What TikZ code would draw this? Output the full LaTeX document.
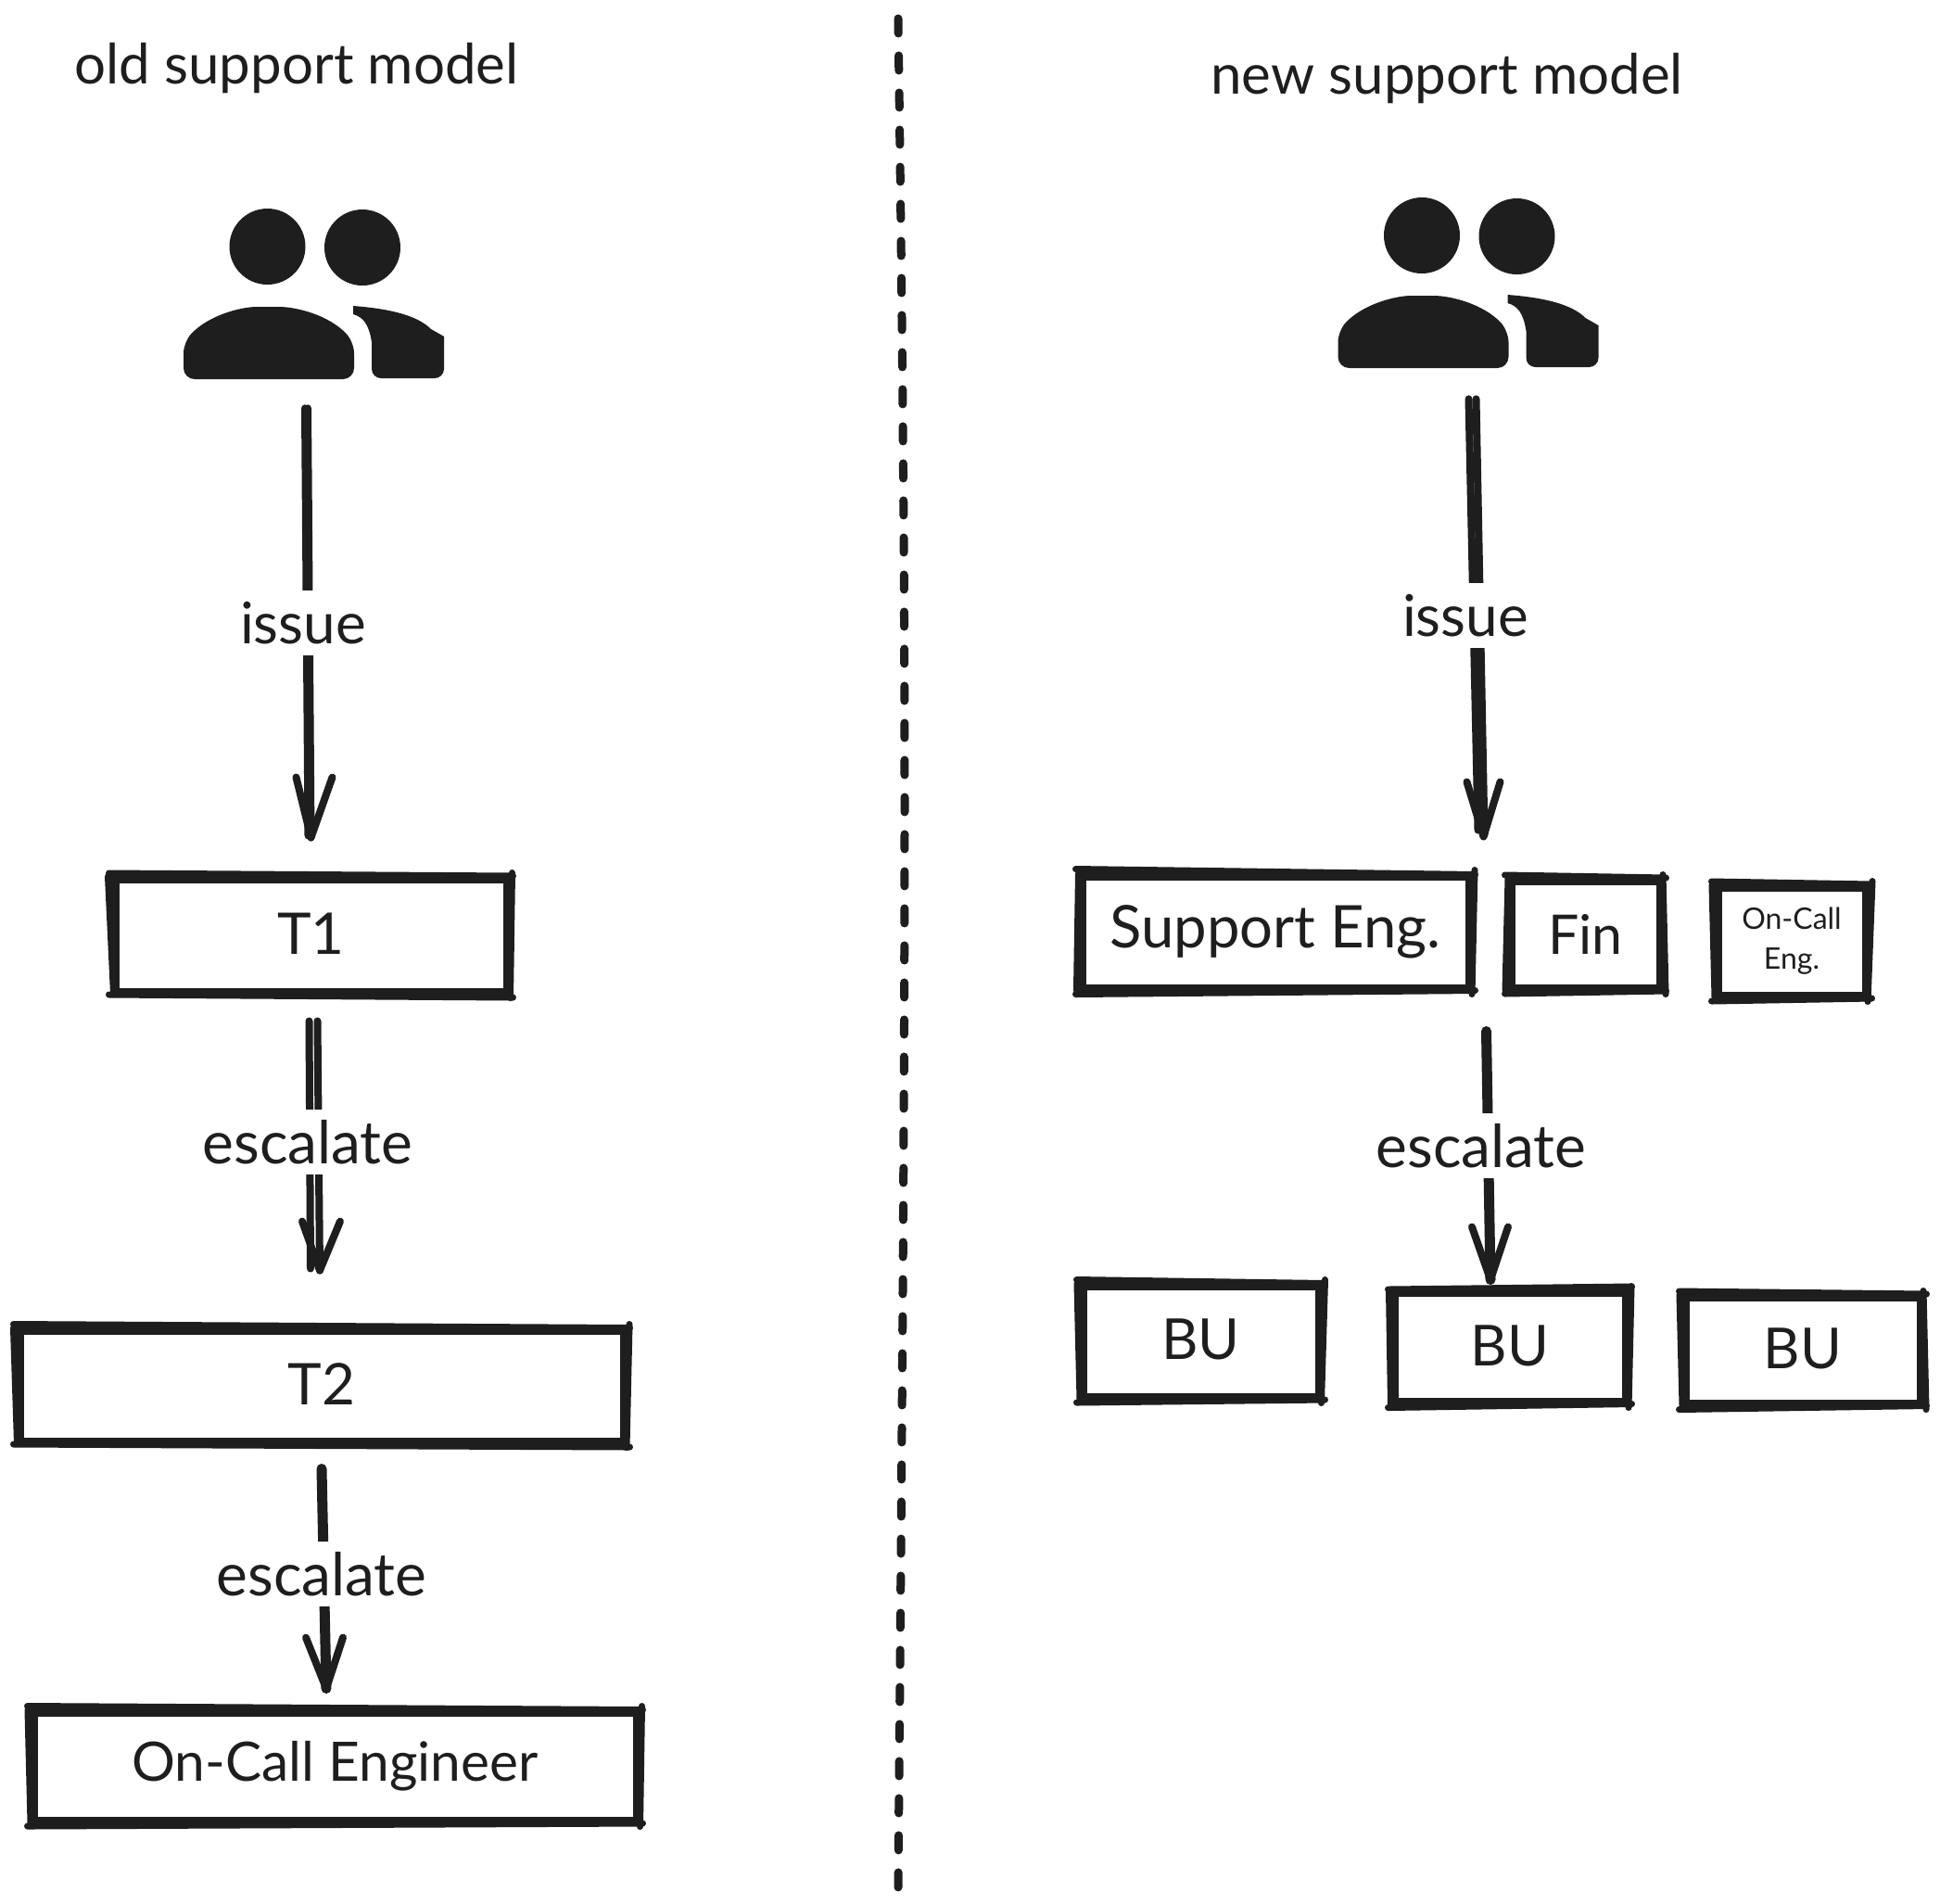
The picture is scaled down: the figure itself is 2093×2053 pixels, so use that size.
\documentclass[tikz,border=0pt]{standalone}
\usepackage{fontspec}
\setmainfont{Lato}
\usetikzlibrary{calc}
\definecolor{ink}{HTML}{1E1E1E}
\newcommand{\txt}[1]{\fontsize{#1}{24}\selectfont}
\tikzset{
  x=0.5pt,y=-0.5pt,
  box/.style={draw=ink,line width=4.5pt,fill=white,text=ink,align=center,inner sep=0pt,font=\txt{30}},
  lbl/.style={fill=white,text=ink,inner xsep=4pt,inner ysep=0pt,minimum height=35pt},
  title/.style={text=ink,inner sep=0pt,font=\txt{30}},
  rough/.style={draw=ink,line width=3.5pt,line cap=round},
  shaft/.style={draw=ink,line width=4pt,line cap=round},
  shaftb/.style={draw=ink,line width=5.5pt,line cap=round},
  head/.style={draw=ink,line width=4pt,line cap=round,line join=round},
  peoplebox/.style={inner sep=0pt,minimum width=141pt,minimum height=69pt},
  divider/.style={draw=ink,line width=4.5pt,line cap=round,dash pattern=on 8pt off 12pt}
}
% rough second strokes over a box: top, right, bottom, left offsets
\newcommand{\roughen}[5]{%
  \draw[rough] ($(#1.north west)+(-2,#2)$) -- ($(#1.north east)+(2,{-(#2)})$);
  \draw[rough] ($(#1.north east)+(#3,-2)$) -- ($(#1.south east)+({-(#3)},2)$);
  \draw[rough] ($(#1.south west)+(-2,#4)$) -- ($(#1.south east)+(2,{-(#4)})$);
  \draw[rough] ($(#1.north west)+(#5,2)$) -- ($(#1.south west)+({-(#5)},-2)$);
}
\newcommand{\peoplefig}{%
  \fill[ink] (288.5,266) circle[radius=20.5pt];
  \fill[ink] (391,267) circle[radius=20.5pt];
  \fill[ink,rounded corners=6pt] (198,369) .. controls (225,340) and (260,331) .. (289,331)
     .. controls (320,331) and (355,340) .. (382,369) -- (382,409) -- (198,409) -- cycle;
  \fill[ink] (381,330) .. controls (420,333) and (450,340) .. (465,355) -- (479,363)
     [rounded corners=5pt] -- (479,408) -- (401,408) [sharp corners] -- (401,369)
     .. controls (398,350) and (392,342) .. (381,339) -- cycle;
}
\begin{document}
\begin{tikzpicture}
\useasboundingbox (0,0) rectangle (2093,2053);
\fill[white] (0,0) rectangle (2093,2053);

% divider
\coordinate (dtop) at (969,20);
\coordinate (dmid) at (976,868);
\coordinate (dbot) at (969,2036);
\draw[divider] (dtop) .. controls (973,300) and (976,600) .. (dmid) .. controls (976,1200) and (972,1700) .. (dbot);

% titles
\node[title] (toldm) at (320,74) {old support model};
\node[title] (tnewm) at (1561,85) {new support model};

% people
\peoplefig
\node[peoplebox] (pold) at (339,335) {};
\begin{scope}[shift={(1245.5,-12)}]
\peoplefig
\end{scope}
\node[peoplebox] (pnew) at (1584.5,323) {};

% boxes
\node[box,font=\txt{31},minimum width=211.5pt,minimum height=61pt] (t1) at (335.5,1009) {\raisebox{1.5pt}{T1}};
\node[box,font=\txt{31},minimum width=326pt,minimum height=60pt] (t2) at (347,1495) {\raisebox{2pt}{T2}};
\node[box,font=\txt{29.3},minimum width=325.5pt,minimum height=58.5pt] (oce) at (361.5,1905.5) {On-Call Engineer};
\node[box,font=\txt{31.7},minimum width=209pt,minimum height=60.5pt] (se) at (1376,1005.5) {Support Eng.};
\node[box,font=\txt{29.5},minimum width=80.5pt,minimum height=58pt] (fin) at (1710.5,1008) {Fin};
\node[box,font=\fontsize{16}{21.5}\selectfont,minimum width=80pt,minimum height=58.5pt] (oc2) at (1933,1015.5) {On-Call\\Eng.};
\node[box,font=\txt{30.5},minimum width=127.5pt,minimum height=60pt] (bu1) at (1295.5,1447) {\raisebox{2pt}{BU}};
\node[box,font=\txt{30.5},minimum width=125pt,minimum height=59pt] (bu2) at (1629,1453) {\raisebox{1.5pt}{BU}};
\node[box,font=\txt{30.5},minimum width=127pt,minimum height=57.5pt] (bu3) at (1945,1456.5) {\raisebox{2pt}{BU}};

\roughen{t1}{-1.5}{1}{-1.5}{-3}
\roughen{t2}{-2}{1.5}{-1.5}{-2}
\roughen{oce}{-2}{1}{1.5}{-1.5}
\roughen{se}{-3}{1.5}{2}{1}
\roughen{fin}{-1.5}{-1.5}{1.5}{1.5}
\roughen{oc2}{-1.5}{2.5}{1.5}{-1.5}
\roughen{bu1}{-2}{2}{1.5}{-1.5}
\roughen{bu2}{1.5}{1.5}{2}{-1}
\roughen{bu3}{-1.5}{-1.5}{2}{-1.5}

% connectors
\draw[shaft] ($(pold.south)+(-10,36)$) -- ($(t1.north)+(-3,-42)$);
\draw[shaft] ($(pold.south)+(-7,36)$) -- ($(t1.north)+(0,-40)$);
\draw[head] ($(t1.north)+(-16,-105)$) -- ($(t1.north)+(0,-40)$) -- ($(t1.north)+(23,-105)$);
\node[lbl,font=\txt{31}] (l1) at (327,672) {issue};

\draw[shaft] ($(pnew.south)+(0,38)$) -- ($(se.north east)+(5,-45)$);
\draw[shaft] ($(pnew.south)+(8,38)$) -- ($(se.north east)+(12,-40)$);
\draw[head] ($(se.north east)+(-7,-97)$) -- ($(se.north east)+(11,-38)$) -- ($(se.north east)+(29,-97)$);
\node[lbl,font=\txt{31}] (l2) at (1581,664) {issue};

\draw[shaft] ($(t1.south)+(-2,27)$) -- ($(t2.north)+(-12,-62)$);
\draw[shaft] ($(t1.south)+(7,27)$) -- ($(t2.north)+(-2,-60)$);
\draw[head] ($(t2.north)+(-21,-113)$) -- ($(t2.north)+(-2,-60)$) -- ($(t2.north)+(20,-113)$);
\node[lbl,font=\txt{32}] (l3) at (332,1232) {escalate};

\draw[shaftb] ($(t2.south)+(0,25)$) -- ($(oce.north)+(-9.5,-21)$);
\draw[head] ($(oce.north)+(-31.5,-76)$) -- ($(oce.north)+(-9.5,-21)$) -- ($(oce.north)+(8.5,-76)$);
\node[lbl,font=\txt{32}] (l4) at (347,1698) {escalate};

\draw[shaftb] ($(se.south east)+(14,42)$) -- ($(bu2.north)+(-21,-9)$);
\draw[head] ($(bu2.north)+(-41,-66)$) -- ($(bu2.north)+(-21,-9)$) -- ($(bu2.north)+(-2,-66)$);
\node[lbl,font=\txt{32}] (l5) at (1598,1236) {escalate};
\end{tikzpicture}
\end{document}
